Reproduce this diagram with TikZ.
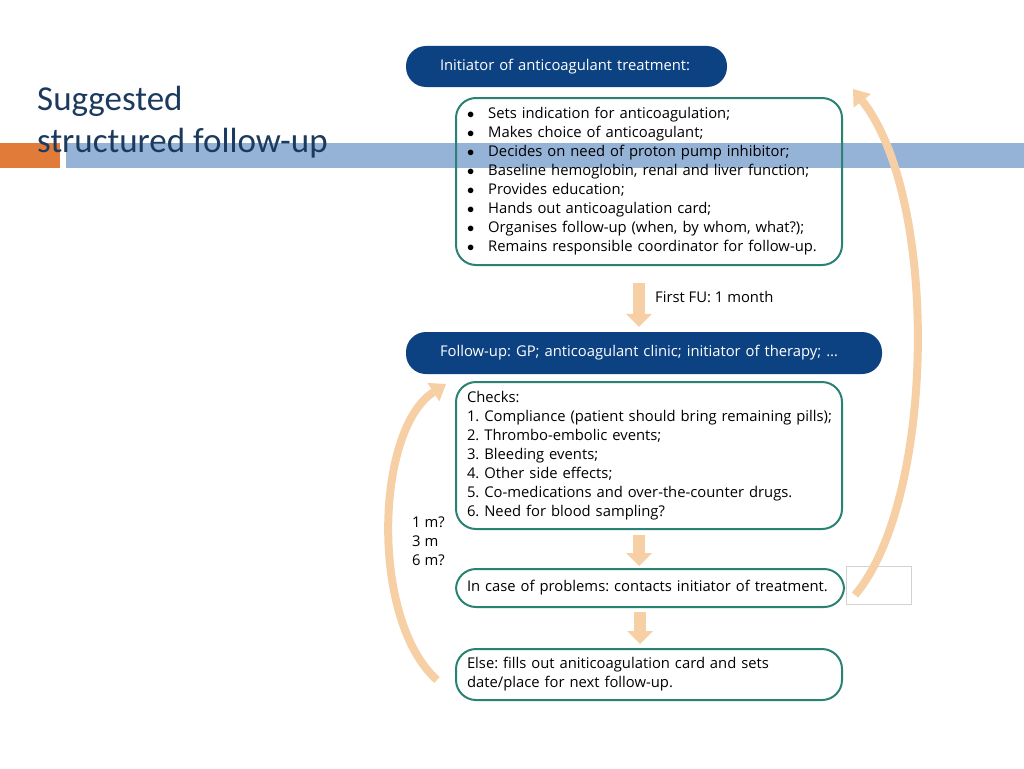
\documentclass[tikz,border=0pt]{standalone}
\usepackage{fontspec}
\setmainfont{Open Sans}
\newfontfamily\titlefont{Carlito}
\usetikzlibrary{arrows.meta,positioning}
\definecolor{navy}{HTML}{0D4282}
\definecolor{boxteal}{HTML}{2A8273}
\definecolor{peach}{HTML}{F7CFA4}
\definecolor{titleblue}{HTML}{1B3A5E}
\definecolor{barblue}{HTML}{95B3D7}
\definecolor{barorange}{HTML}{E07B39}
\newcommand{\bigdot}{$\bullet$}
\frenchspacing
\tikzset{
  pill/.style={fill=navy, text=white, rounded corners=20pt, inner xsep=34pt, inner ysep=0pt,
    align=left, font=\fontsize{14.8}{19}\selectfont},
  infobox/.style={draw=boxteal, line width=2pt, rounded corners=20pt, inner xsep=11pt,
    inner ysep=0pt, align=left, anchor=north west, font=\fontsize{14.8}{19}\selectfont},
  downarrow/.style={draw=peach, line width=12pt, -{Triangle[width=26pt,length=13pt,line width=0pt]}},
  looparrow/.style={draw=peach, line width=8pt, -{Triangle[width=22pt,length=15pt,line width=0pt]}},
  plain/.style={inner sep=0pt, font=\fontsize{14.8}{19}\selectfont}
}
\begin{document}
\begin{tikzpicture}[x=1pt,y=-1pt]
    \useasboundingbox (0,0) rectangle (1024,768);
    % title bars
    \fill[barorange] (0,143) rectangle (60,168);
    \fill[barblue] (66,143) rectangle (1024,168);

    % title
    \node[anchor=base west, inner sep=0pt, text=titleblue, font=\titlefont\fontsize{35}{42}\selectfont] (title1) at (37,110) {Suggested};
    \node[anchor=base west, inner sep=0pt, text=titleblue, font=\titlefont\fontsize{35}{42}\selectfont] (title2) at (37,152) {structured follow-up};

    % initiator
    \node[pill, text width=253pt, minimum height=41pt] (head1) at (566.5,66.5) {Initiator of anticoagulant treatment:};
    \node[infobox, text width=364pt, minimum height=167pt] (box1) at (455,97) {%
      \begin{tabular}{@{}l@{\hspace{14pt}}l@{}}
        \bigdot & Sets indication for anticoagulation;\\
        \bigdot & Makes choice of anticoagulant;\\
        \bigdot & Decides on need of proton pump inhibitor;\\
        \bigdot & Baseline hemoglobin, renal and liver function;\\
        \bigdot & Provides education;\\
        \bigdot & Hands out anticoagulation card;\\
        \bigdot & Organises follow-up (when, by whom, what?);\\
        \bigdot & Remains responsible coordinator for follow-up.
      \end{tabular}};

    % follow-up
    \node[pill, text width=408pt, minimum height=42pt] (head2) at (644,353) {Follow-up: GP; anticoagulant clinic; initiator of therapy; \dots};
    \node[infobox, text width=364pt, minimum height=147pt] (box2) at (455,381) {Checks:\\
      \mbox{1. Compliance (patient should bring remaining pills);}\\
      2. Thrombo-embolic events;\\
      3. Bleeding events;\\
      4. Other side effects;\\
      5. Co-medications and over-the-counter drugs.\\
      6. Need for blood sampling?};
    \node[infobox, text width=366pt, minimum height=38pt] (box3) at (455,568) {In case of problems: contacts initiator of treatment.};
    \node[infobox, text width=364pt, minimum height=51pt] (box4) at (455,648) {Else: fills out aniticoagulation card and sets\\date/place for next follow-up.};
    \node[draw=gray!35, line width=0.8pt, anchor=north west, minimum width=65pt, minimum height=38pt, inner sep=0pt] (blank) at (846,566) {};

    % labels
    \node[plain, anchor=west] (firstfu) at (655,297) {First FU: 1 month};
    \node[plain, anchor=west, align=left] (months) at (412,541) {1 m?\\3 m\\6 m?};

    % straight arrows
    \draw[downarrow, shorten <=17pt, shorten >=5pt] ([xshift=-10pt]box1.south) -- ([xshift=-10pt]box1.south |- head2.north);
    \draw[downarrow, shorten <=5pt, shorten >=2pt] ([xshift=-10pt]box2.south) -- ([xshift=-10pt]box2.south |- box3.north);
    \draw[downarrow, shorten <=4pt, shorten >=4pt] ([xshift=-10pt]box3.south) -- ([xshift=-10pt]box3.south |- box4.north);

    % loops
    \coordinate (lfrom) at (437,680);
    \coordinate (lto) at (446,384);
    \coordinate (rfrom) at (855,595);
    \coordinate (rto) at (853,89);
    \draw[looparrow] (lfrom) .. controls (370,620) and (375,430) .. (lto);
    \draw[looparrow] (rfrom) .. controls (935,500) and (940,200) .. (rto);
\end{tikzpicture}
\end{document}
